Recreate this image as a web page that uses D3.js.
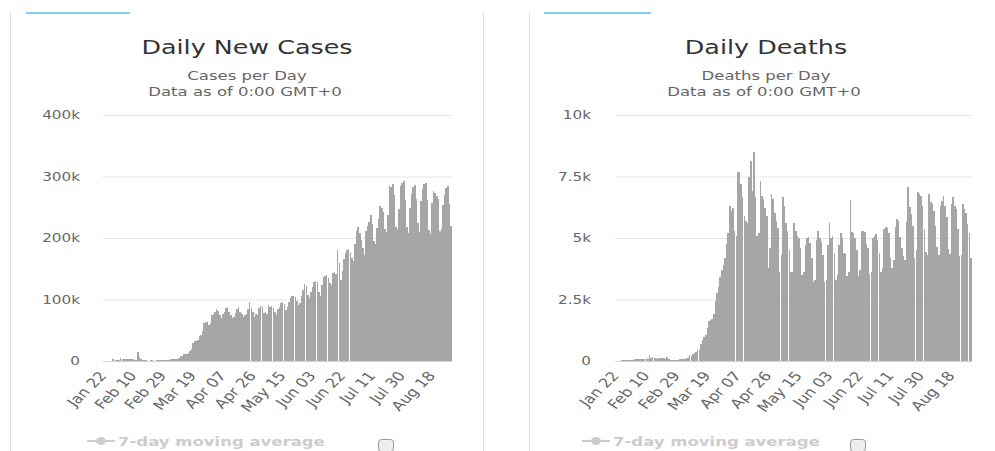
<!DOCTYPE html>
<html>
<head>
<meta charset="utf-8">
<script src="https://cdn.jsdelivr.net/npm/d3@7"></script>
<style>
  body { margin: 0; background: #fff; }
  text { font-family: "DejaVu Sans", sans-serif; }
</style>
</head>
<body>
<svg id="chart" width="995" height="451"></svg>
<script>
// categories: one per day, Jan 22 - Aug 30 2020
var firstDay = new Date(2020, 0, 22);
var lastDay = new Date(2020, 7, 31); // exclusive
var tickLabels = ["Jan 22", "Feb 10", "Feb 29", "Mar 19", "Apr 07", "Apr 26",
                  "May 15", "Jun 03", "Jun 22", "Jul 11", "Jul 30", "Aug 18"];

var casesTicks = [0, 100000, 200000, 300000, 400000];
var casesTickLabels = ["0", "100k", "200k", "300k", "400k"];
var deathsTicks = [0, 2500, 5000, 7500, 10000];
var deathsTickLabels = ["0", "2.5k", "5k", "7.5k", "10k"];

// daily new cases
var dailyCases = [
  100, 100, 290, 490, 680, 810, 2650, 590, 2070, 1690,
  2110, 4750, 3100, 3890, 3700, 3160, 3440, 2680, 3000, 2540,
  2020, 1820, 15150, 6530, 2660, 2100, 1880, 1750, 550, 640,
  1000, 1000, 610, 650, 850, 1060, 1300, 1390, 1750,
  1800, 1900, 2300, 2300, 2800, 3900, 3900, 4000, 3900, 4500,
  7400, 7600, 10800, 10800, 11800, 13800, 15800, 19400, 29300, 32000,
  32900, 34200, 40500, 42800, 49000, 62400, 63000, 64000, 58000, 61000,
  75000,
  77000, 79000, 84000, 82000, 74000, 70000, 76000, 80000, 86000, 88000,
  80000, 74000, 70000, 71000, 78000, 84000, 88000, 80000, 76000, 72000,
  75000, 76000, 85000, 96000, 86000, 80000, 72000, 76000, 75000, 86000,
  90000, 87000, 78000, 80000, 76000, 91000, 88000, 90000, 86000, 79000,
  74000, 85000, 88000, 95000, 96000, 93000, 83000, 88000, 96000, 102000,
  106000, 106000, 104000, 97000, 91000, 95000, 106000, 116000, 125000, 122000,
  108000,
  102000, 113000, 121000, 129000, 130000, 129000, 112000, 106000, 124000, 136000,
  138000, 140000, 135000, 127000, 123000, 143000, 144000, 142000, 181000, 160000,
  132000, 147000, 166000, 176000, 180000, 182000, 178000, 168000, 162000, 191000,
  212000, 218000, 208000, 196000, 183000, 172000, 211000, 219000, 226000, 238000,
  222000, 195000, 190000, 217000, 231000, 252000, 248000, 243000, 214000, 210000,
  238000, 285000, 283000, 287000, 270000, 218000, 215000, 247000, 284000, 290000,
  292000,
  262000, 218000, 208000, 249000, 272000, 283000, 286000, 264000, 225000, 210000,
  260000, 279000, 287000, 290000, 261000, 213000, 206000, 257000, 276000, 273000,
  268000, 264000, 212000, 214000, 253000, 270000, 282000, 285000, 255000, 220000
];

// daily deaths
var dailyDeaths = [
  0, 8, 16, 15, 24, 26, 26, 38, 43, 46,
  45, 57, 64, 66, 73, 73, 86, 89, 97, 108,
  97, 254, 121, 143, 142, 105, 98, 136, 115, 118,
  109, 97, 150, 71, 52, 29, 44, 37, 58,
  58, 67, 72, 84, 80, 103, 104, 228, 201, 273,
  335, 354, 445, 437, 707, 849, 994, 1050, 1336, 1626,
  1681, 1722, 1924, 2426, 2771, 3000, 3400, 3700, 3900, 4200,
  4750,
  5200, 6300, 6100, 6200, 5300, 5100, 7700, 7700, 7200, 6650,
  5900, 5700, 5600, 7500, 8150, 6900, 8500, 6650, 5100, 5200,
  7300, 6700, 6600, 6200, 5900, 3800, 4600, 6800, 6600, 6000,
  5700, 5400, 3600, 4300, 6650, 6300, 5600, 5300, 4500, 3600,
  3600, 5600, 5300, 5100, 5000, 4600, 3500, 3600, 4700, 5000,
  5050, 4800, 4200, 3200, 3300, 4900, 5300, 5000, 4850, 4300,
  3200,
  3300, 4700, 5600, 5000, 5100, 4400, 3300, 3500, 4700, 5200,
  5000, 4400, 4350, 3460, 3600, 6550, 5230, 5200, 5000, 4500,
  3460, 3700, 5300, 5300, 5230, 4750, 4600, 3530, 3600, 5000,
  5100, 5160, 4900, 4400, 3600, 3800, 5370, 5430, 5400, 5200,
  4200, 3800, 4100, 5430, 5780, 5700, 5030, 4600, 4280, 4100,
  5640, 7060, 6250, 5980, 5500, 4200, 4500, 6860, 6800, 6720,
  6300,
  5370, 4420, 4300, 6800, 6450, 6390, 6100, 5500, 4620, 4300,
  6300, 6520, 6720, 6300, 5840, 4550, 4350, 6400, 6660, 6300,
  6180, 5370, 4280, 4300, 6390, 6180, 6000, 5570, 5200, 4180
];

var days = d3.timeDay.range(firstDay, lastDay);
var fmtDay = d3.timeFormat("%b %d");
var SX = 1.27; // text in the picture is drawn wide

var svg = d3.select("#chart");

drawPanel({
  title: "Daily New Cases", sub: "Cases per Day",
  values: dailyCases, ticks: casesTicks, tickText: casesTickLabels, yMax: 400000,
  left: 102.7, right: 451.7, labelGap: 22.7, cx: 247, borderL: 10, borderR: 483,
  blue: [26, 130], legendX: 87, boxX: 378
});
drawPanel({
  title: "Daily Deaths", sub: "Deaths per Day",
  values: dailyDeaths, ticks: deathsTicks, tickText: deathsTickLabels, yMax: 10000,
  left: 615, right: 971.7, labelGap: 24, cx: 766, borderL: 529, borderR: null,
  blue: [544, 651], legendX: 582, boxX: 850
});

function drawPanel(c) {
  var top = 115, bottom = 361;
  var g = svg.append("g");

  // panel frame
  g.append("line").attr("x1", c.borderL + 0.5).attr("x2", c.borderL + 0.5)
    .attr("y1", 12).attr("y2", 451).attr("stroke", "#dcdcdc");
  if (c.borderR) {
    g.append("line").attr("x1", c.borderR + 0.5).attr("x2", c.borderR + 0.5)
      .attr("y1", 12).attr("y2", 451).attr("stroke", "#dcdcdc");
  }
  g.append("line").attr("x1", c.blue[0]).attr("x2", c.blue[1])
    .attr("y1", 13).attr("y2", 13).attr("stroke", "#5bc0f0").attr("stroke-width", 1.5);

  // titles
  g.append("text").attr("transform", "translate(" + c.cx + ",54) scale(" + SX + ",1)")
    .attr("text-anchor", "middle").attr("font-size", 20).attr("fill", "#333").text(c.title);
  g.append("text").attr("transform", "translate(" + c.cx + ",80) scale(" + SX + ",1)")
    .attr("text-anchor", "middle").attr("font-size", 13).attr("fill", "#666").text(c.sub);
  g.append("text").attr("transform", "translate(" + (c.cx - 2) + ",96) scale(" + SX + ",1)")
    .attr("text-anchor", "middle").attr("font-size", 13).attr("fill", "#666").text("Data as of 0:00 GMT+0");

  var x = d3.scaleBand().domain(d3.range(days.length))
    .range([c.left, c.right]).paddingInner(0.045).paddingOuter(0);
  var y = d3.scaleLinear().domain([0, c.yMax]).range([bottom, top]);

  // y axis with grid
  var yAxis = g.append("g").attr("transform", "translate(" + c.left + ",0)")
    .call(d3.axisLeft(y).tickValues(c.ticks)
      .tickFormat(function (d, i) { return c.tickText[i]; })
      .tickSize(-(c.right - c.left)).tickPadding(c.labelGap / SX));
  yAxis.select(".domain").remove();
  yAxis.selectAll("line").attr("stroke", "#e6e6e6");
  yAxis.selectAll("text").attr("fill", "#666").attr("font-size", 12)
    .attr("font-family", "DejaVu Sans").attr("transform", "scale(" + SX + ",1)");

  // bars
  g.append("g").selectAll("rect")
    .data(c.values)
    .enter()
    .append("rect")
      .attr("x", function (d, i) { return Math.round(x(i)); })
      .attr("width", function (d, i) { return Math.round(x(i) + x.bandwidth()) - Math.round(x(i)); })
      .attr("y", function (d) { return y(d); })
      .attr("height", function (d) { return bottom - y(d); })
      .attr("fill", "#a6a6a6")
      .attr("shape-rendering", "crispEdges");

  // x axis
  var tickIdx = days.map(function (d, i) { return i; })
    .filter(function (i) { return tickLabels.indexOf(fmtDay(days[i])) > -1; });
  var xAxis = g.append("g").attr("transform", "translate(0," + bottom + ")")
    .call(d3.axisBottom(x).tickValues(tickIdx)
      .tickFormat(function (i) { return fmtDay(days[i]); })
      .tickSize(0).tickSizeOuter(0));
  xAxis.select(".domain").attr("stroke", "#ccd6eb");
  xAxis.selectAll("text")
    .attr("y", null).attr("dy", null)
    .attr("text-anchor", "end").attr("fill", "#666").attr("font-size", 13)
    .attr("font-family", "DejaVu Sans")
    .attr("transform", "translate(4,15) scale(" + SX + ",1) rotate(-51)");

  // legend (hidden series look)
  var ly = 441;
  g.append("line").attr("x1", c.legendX).attr("x2", c.legendX + 28)
    .attr("y1", ly).attr("y2", ly).attr("stroke", "#cccccc").attr("stroke-width", 2);
  g.append("ellipse").attr("cx", c.legendX + 14).attr("cy", ly).attr("rx", 5).attr("ry", 4)
    .attr("fill", "#cccccc");
  g.append("text").attr("transform", "translate(" + (c.legendX + 31) + "," + (ly + 5) + ") scale(" + SX + ",1)")
    .attr("font-size", 13).attr("font-weight", "bold").attr("fill", "#cccccc")
    .text("7-day moving average");
  g.append("rect").attr("x", c.boxX + 0.5).attr("y", 439.5).attr("width", 15).attr("height", 12)
    .attr("rx", 3).attr("fill", "#eeeeee").attr("stroke", "#999");
}
</script>
</body>
</html>
